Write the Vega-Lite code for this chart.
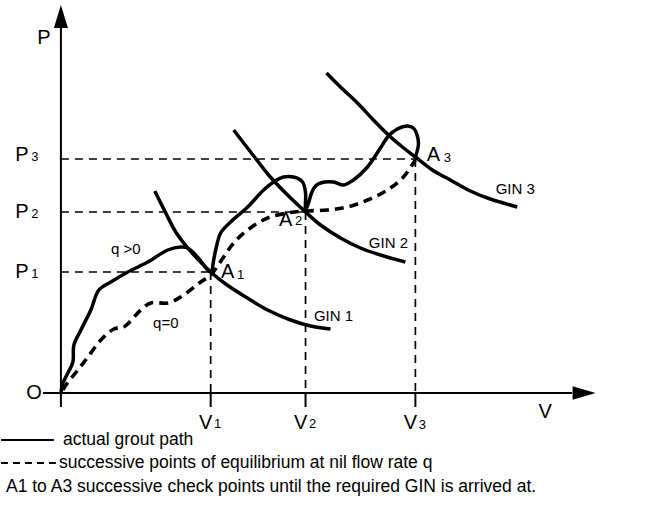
{
  "$schema": "https://vega.github.io/schema/vega-lite/v6.json",
  "width": 668,
  "height": 525,
  "padding": 0,
  "autosize": {"type": "fit", "contains": "padding"},
  "background": "white",
  "config": {"view": {"stroke": null}, "text": {"font": "Liberation Sans", "color": "black"}},
  "datasets": {
    "refs": [
      {"id": "P3", "o": 1, "x": 0, "y": 234}, {"id": "P3", "o": 2, "x": 355, "y": 234},
      {"id": "P2", "o": 1, "x": 0, "y": 181}, {"id": "P2", "o": 2, "x": 245, "y": 181},
      {"id": "P1", "o": 1, "x": 0, "y": 121}, {"id": "P1", "o": 2, "x": 150, "y": 121},
      {"id": "V1", "o": 1, "x": 150, "y": 121}, {"id": "V1", "o": 2, "x": 150, "y": 0},
      {"id": "V2", "o": 1, "x": 245, "y": 181}, {"id": "V2", "o": 2, "x": 245, "y": 0},
      {"id": "V3", "o": 1, "x": 355, "y": 234}, {"id": "V3", "o": 2, "x": 355, "y": 0}
    ],
    "axes": [
      {"x": 0, "x2": 0, "y": -14, "y2": 366},
      {"x": -18, "x2": 512, "y": 0, "y2": 0},
      {"x": 150, "x2": 150, "y": -14, "y2": 0},
      {"x": 245, "x2": 245, "y": -14, "y2": 0},
      {"x": 355, "x2": 355, "y": -14, "y2": 0}
    ],
    "arrows": [
      {"dir": "up", "x": 0, "y": 376.5},
      {"dir": "right", "x": 524, "y": 0}
    ],
    "gins": [
      {"id": "GIN1", "o": 1, "x": 94, "y": 202}, {"id": "GIN1", "o": 2, "x": 105, "y": 180},
      {"id": "GIN1", "o": 3, "x": 115, "y": 161}, {"id": "GIN1", "o": 4, "x": 127, "y": 145},
      {"id": "GIN1", "o": 5, "x": 138, "y": 133}, {"id": "GIN1", "o": 6, "x": 150, "y": 121},
      {"id": "GIN1", "o": 7, "x": 165, "y": 109}, {"id": "GIN1", "o": 8, "x": 185, "y": 96},
      {"id": "GIN1", "o": 9, "x": 207, "y": 83}, {"id": "GIN1", "o": 10, "x": 230, "y": 73},
      {"id": "GIN1", "o": 11, "x": 250, "y": 67}, {"id": "GIN1", "o": 12, "x": 270, "y": 64},
      {"id": "GIN2", "o": 1, "x": 173, "y": 263}, {"id": "GIN2", "o": 2, "x": 190, "y": 241},
      {"id": "GIN2", "o": 3, "x": 208, "y": 218}, {"id": "GIN2", "o": 4, "x": 225, "y": 200},
      {"id": "GIN2", "o": 5, "x": 245, "y": 181}, {"id": "GIN2", "o": 6, "x": 260, "y": 168},
      {"id": "GIN2", "o": 7, "x": 280, "y": 155}, {"id": "GIN2", "o": 8, "x": 300, "y": 145},
      {"id": "GIN2", "o": 9, "x": 320, "y": 138}, {"id": "GIN2", "o": 10, "x": 345, "y": 131},
      {"id": "GIN3", "o": 1, "x": 266, "y": 320}, {"id": "GIN3", "o": 2, "x": 280, "y": 306},
      {"id": "GIN3", "o": 3, "x": 297, "y": 290}, {"id": "GIN3", "o": 4, "x": 312, "y": 274},
      {"id": "GIN3", "o": 5, "x": 328, "y": 258}, {"id": "GIN3", "o": 6, "x": 342, "y": 246},
      {"id": "GIN3", "o": 7, "x": 355, "y": 236}, {"id": "GIN3", "o": 8, "x": 372, "y": 223},
      {"id": "GIN3", "o": 9, "x": 390, "y": 213}, {"id": "GIN3", "o": 10, "x": 410, "y": 202},
      {"id": "GIN3", "o": 11, "x": 430, "y": 194}, {"id": "GIN3", "o": 12, "x": 457, "y": 186}
    ],
    "grout": [
      {"o": 1, "x": 0, "y": 0}, {"o": 2, "x": 2, "y": 10}, {"o": 3, "x": 7, "y": 20},
      {"o": 4, "x": 12, "y": 31}, {"o": 5, "x": 13, "y": 48}, {"o": 6, "x": 20, "y": 63},
      {"o": 7, "x": 30, "y": 83}, {"o": 8, "x": 38, "y": 103}, {"o": 9, "x": 50, "y": 111},
      {"o": 10, "x": 67, "y": 121}, {"o": 11, "x": 87, "y": 131}, {"o": 12, "x": 107, "y": 143},
      {"o": 13, "x": 120, "y": 146}, {"o": 14, "x": 127, "y": 145}, {"o": 15, "x": 133, "y": 140},
      {"o": 16, "x": 140, "y": 132}, {"o": 17, "x": 150, "y": 121}, {"o": 18, "x": 153, "y": 133},
      {"o": 19, "x": 155, "y": 143}, {"o": 20, "x": 160, "y": 160}, {"o": 21, "x": 170, "y": 171},
      {"o": 22, "x": 187, "y": 186}, {"o": 23, "x": 203, "y": 203}, {"o": 24, "x": 213, "y": 211},
      {"o": 25, "x": 223, "y": 216}, {"o": 26, "x": 233, "y": 216}, {"o": 27, "x": 242, "y": 211},
      {"o": 28, "x": 245, "y": 200}, {"o": 29, "x": 245, "y": 183}, {"o": 30, "x": 248, "y": 190},
      {"o": 31, "x": 251, "y": 200}, {"o": 32, "x": 255, "y": 207}, {"o": 33, "x": 260, "y": 210},
      {"o": 34, "x": 273, "y": 211}, {"o": 35, "x": 283, "y": 208}, {"o": 36, "x": 293, "y": 213},
      {"o": 37, "x": 307, "y": 226}, {"o": 38, "x": 320, "y": 245}, {"o": 39, "x": 328, "y": 257},
      {"o": 40, "x": 337, "y": 264}, {"o": 41, "x": 347, "y": 267}, {"o": 42, "x": 353, "y": 265},
      {"o": 43, "x": 357, "y": 257}, {"o": 44, "x": 358, "y": 248}, {"o": 45, "x": 355, "y": 236}
    ],
    "equil": [
      {"o": 1, "x": 2, "y": 3}, {"o": 2, "x": 5, "y": 8}, {"o": 3, "x": 17, "y": 23},
      {"o": 4, "x": 27, "y": 36}, {"o": 5, "x": 40, "y": 53}, {"o": 6, "x": 53, "y": 64},
      {"o": 7, "x": 63, "y": 66}, {"o": 8, "x": 80, "y": 83}, {"o": 9, "x": 90, "y": 90},
      {"o": 10, "x": 107, "y": 90}, {"o": 11, "x": 120, "y": 96}, {"o": 12, "x": 140, "y": 111},
      {"o": 13, "x": 150, "y": 118}, {"o": 14, "x": 163, "y": 136}, {"o": 15, "x": 173, "y": 150},
      {"o": 16, "x": 187, "y": 163}, {"o": 17, "x": 207, "y": 175}, {"o": 18, "x": 227, "y": 180},
      {"o": 19, "x": 245, "y": 182}, {"o": 20, "x": 267, "y": 183}, {"o": 21, "x": 287, "y": 186},
      {"o": 22, "x": 307, "y": 193}, {"o": 23, "x": 327, "y": 203}, {"o": 24, "x": 343, "y": 216},
      {"o": 25, "x": 355, "y": 233}
    ],
    "legendlines": [
      {"kind": "solid", "x": -60, "x2": -7, "y": -47},
      {"kind": "dashed", "x": -60, "x2": -5, "y": -70}
    ],
    "labels": [
      {"role": "main", "t": "P", "x": -17, "y": 355},
      {"role": "main", "t": "P", "x": -39, "y": 238},
      {"role": "main", "t": "P", "x": -39, "y": 181},
      {"role": "main", "t": "P", "x": -39, "y": 121},
      {"role": "main", "t": "O", "x": -27, "y": 0},
      {"role": "main", "t": "V", "x": 145, "y": -30},
      {"role": "main", "t": "V", "x": 240, "y": -30},
      {"role": "main", "t": "V", "x": 350, "y": -30},
      {"role": "main", "t": "V", "x": 485, "y": -19},
      {"role": "main", "t": "A", "x": 167, "y": 121},
      {"role": "main", "t": "A", "x": 225, "y": 173},
      {"role": "main", "t": "A", "x": 373, "y": 238},
      {"role": "sub", "t": "3", "x": -26, "y": 236},
      {"role": "sub", "t": "2", "x": -26, "y": 179},
      {"role": "sub", "t": "1", "x": -26, "y": 119},
      {"role": "sub", "t": "1", "x": 157, "y": -31},
      {"role": "sub", "t": "2", "x": 252, "y": -31},
      {"role": "sub", "t": "3", "x": 362, "y": -32},
      {"role": "sub", "t": "1", "x": 180, "y": 118},
      {"role": "sub", "t": "2", "x": 238, "y": 172},
      {"role": "sub", "t": "3", "x": 387, "y": 235},
      {"role": "small", "t": "q >0", "x": 65, "y": 144},
      {"role": "small", "t": "q=0", "x": 105, "y": 70},
      {"role": "small", "t": "GIN 1", "x": 273, "y": 77},
      {"role": "small", "t": "GIN 2", "x": 328, "y": 150},
      {"role": "small", "t": "GIN 3", "x": 455, "y": 204},
      {"role": "legend", "t": "actual grout path", "x": 2, "y": -47},
      {"role": "legend", "t": "successive points of equilibrium at nil flow rate q", "x": -2, "y": -70},
      {"role": "legend", "t": "A1 to A3 successive check points until the required GIN is arrived at.", "x": -55, "y": -94}
    ]
  },
  "encoding": {
    "x": {"field": "x", "type": "quantitative", "scale": {"domain": [-60, 608], "nice": false, "zero": false}, "axis": null},
    "y": {"field": "y", "type": "quantitative", "scale": {"domain": [-132, 393], "nice": false, "zero": false}, "axis": null}
  },
  "layer": [
    {
      "data": {"name": "refs"},
      "mark": {"type": "line", "color": "black", "strokeWidth": 1.7, "strokeDash": [8, 6]},
      "encoding": {"detail": {"field": "id"}, "order": {"field": "o"}}
    },
    {
      "data": {"name": "axes"},
      "mark": {"type": "rule", "color": "black", "strokeWidth": 2},
      "encoding": {"x2": {"field": "x2"}, "y2": {"field": "y2"}}
    },
    {
      "data": {"name": "arrows"},
      "transform": [{"filter": "datum.dir === 'up'"}],
      "mark": {"type": "point", "filled": true, "color": "black", "opacity": 1, "size": 529, "shape": "M0,-1L0.61,1L-0.61,1Z"}
    },
    {
      "data": {"name": "arrows"},
      "transform": [{"filter": "datum.dir === 'right'"}],
      "mark": {"type": "point", "filled": true, "color": "black", "opacity": 1, "size": 529, "shape": "M1,0L-1,0.58L-1,-0.58Z"}
    },
    {
      "data": {"name": "gins"},
      "mark": {"type": "line", "color": "black", "strokeWidth": 3.5, "interpolate": "cardinal"},
      "encoding": {"detail": {"field": "id"}, "order": {"field": "o"}}
    },
    {
      "data": {"name": "grout"},
      "mark": {"type": "line", "color": "black", "strokeWidth": 3.5, "interpolate": "catmull-rom", "strokeJoin": "round"},
      "encoding": {"order": {"field": "o"}}
    },
    {
      "data": {"name": "equil"},
      "mark": {"type": "line", "color": "black", "strokeWidth": 3.6, "strokeDash": [9, 6], "interpolate": "catmull-rom"},
      "encoding": {"order": {"field": "o"}}
    },
    {
      "data": {"name": "legendlines"},
      "transform": [{"filter": "datum.kind === 'solid'"}],
      "mark": {"type": "rule", "color": "black", "strokeWidth": 2},
      "encoding": {"x2": {"field": "x2"}}
    },
    {
      "data": {"name": "legendlines"},
      "transform": [{"filter": "datum.kind === 'dashed'"}],
      "mark": {"type": "rule", "color": "black", "strokeWidth": 2, "strokeDash": [7, 5]},
      "encoding": {"x2": {"field": "x2"}}
    },
    {
      "data": {"name": "labels"},
      "transform": [{"filter": "datum.role === 'main'"}],
      "mark": {"type": "text", "fontSize": 20, "align": "center", "baseline": "middle"},
      "encoding": {"text": {"field": "t"}}
    },
    {
      "data": {"name": "labels"},
      "transform": [{"filter": "datum.role === 'sub'"}],
      "mark": {"type": "text", "fontSize": 13, "align": "center", "baseline": "middle"},
      "encoding": {"text": {"field": "t"}}
    },
    {
      "data": {"name": "labels"},
      "transform": [{"filter": "datum.role === 'small'"}],
      "mark": {"type": "text", "fontSize": 15, "align": "center", "baseline": "middle"},
      "encoding": {"text": {"field": "t"}}
    },
    {
      "data": {"name": "labels"},
      "transform": [{"filter": "datum.role === 'legend'"}],
      "mark": {"type": "text", "fontSize": 17.5, "align": "left", "baseline": "middle"},
      "encoding": {"text": {"field": "t"}}
    }
  ]
}
